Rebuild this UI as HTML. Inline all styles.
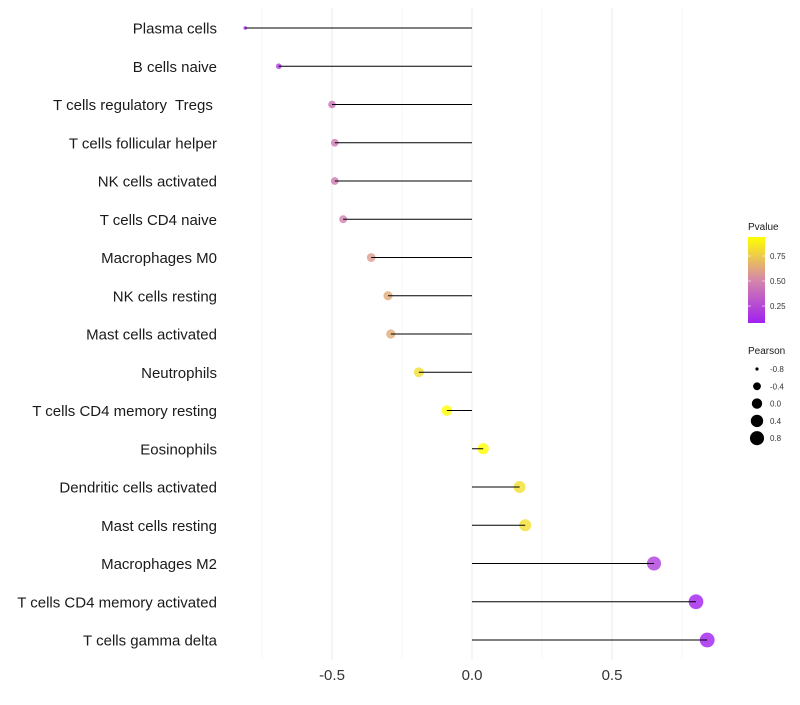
<!DOCTYPE html>
<html><head><meta charset="utf-8"><style>
body{margin:0;background:#fff;font-family:"Liberation Sans",sans-serif}
text{white-space:pre}
</style></head><body>
<svg id="c" width="800" height="700" xmlns="http://www.w3.org/2000/svg"></svg>
<script>
const categories=["Plasma cells","B cells naive","T cells regulatory  Tregs ","T cells follicular helper","NK cells activated","T cells CD4 naive","Macrophages M0","NK cells resting","Mast cells activated","Neutrophils","T cells CD4 memory resting","Eosinophils","Dendritic cells activated","Mast cells resting","Macrophages M2","T cells CD4 memory activated","T cells gamma delta"];
const pearson=[-0.81,-0.69,-0.50,-0.49,-0.49,-0.46,-0.36,-0.30,-0.29,-0.19,-0.09,0.04,0.17,0.19,0.65,0.80,0.84];
const pvalue=[0.10,0.18,0.42,0.45,0.45,0.48,0.58,0.64,0.64,0.82,0.95,1.0,0.82,0.82,0.2,0.08,0.08];
const xTicks=[-0.5,0,0.5];
const xMinor=[-0.75,-0.25,0.25,0.75];
const colorTicks=[0.25,0.5,0.75];
const sizeTicks=[-0.8,-0.4,0.0,0.4,0.8];
const svg=document.getElementById('c');const NS="http://www.w3.org/2000/svg";
function mk(t,a,p){const e=document.createElementNS(NS,t);for(const k in a)e.setAttribute(k,a[k]);(p||svg).appendChild(e);return e;}
const X=v=>472+v*280;
const Y=i=>28+i*38.25;
const R=v=>0.8+Math.sqrt(Math.max(0.5,22+26*v));
const stops=[[0,[160,32,240]],[0.5,[213,135,170]],[1,[255,255,0]]];
function col(p){const t=Math.max(0,Math.min(1,(p-0.08)/(0.94-0.08)));let a=stops[0],b=stops[1];if(t>0.5){a=stops[1];b=stops[2];}const f=(t-a[0])/(b[0]-a[0]);return 'rgb('+a[1].map((c,k)=>Math.round(c+(b[1][k]-c)*f)).join(',')+')';}
xMinor.forEach(v=>{const l=mk('line',{x1:X(v),x2:X(v),y1:8,y2:660,stroke:'#f2f2f2','stroke-width':0.6});});
xTicks.forEach(v=>{const l=mk('line',{x1:X(v),x2:X(v),y1:8,y2:660,stroke:'#ebebeb','stroke-width':1});
const t=mk('text',{x:X(v),y:680,'text-anchor':'middle','font-size':15,fill:'#333'});t.textContent=v===0?'0.0':v.toFixed(1);});
categories.forEach((c,i)=>{const y=Y(i);
const t=mk('text',{x:217,y:y+5.5,'text-anchor':'end','font-size':15,fill:'#1a1a1a'});t.textContent=c;
const d=mk('circle',{cx:X(pearson[i]),cy:y,r:R(pearson[i]),fill:col(pvalue[i]),'fill-opacity':0.8});
const l=mk('line',{x1:X(0),x2:X(pearson[i]),y1:y,y2:y,stroke:'#000','stroke-width':1});});
const lt=mk('text',{x:748,y:230,'font-size':10,fill:'#1a1a1a'});lt.textContent='Pvalue';
const defs=mk('defs',{});const g=mk('linearGradient',{id:'gr',x1:0,y1:1,x2:0,y2:0},defs);
for(let k=0;k<=10;k++){mk('stop',{offset:k/10,'stop-color':col(0.08+k/10*0.86)},g);}
const cb=mk('rect',{x:748,y:237,width:17,height:86,fill:'url(#gr)'});
colorTicks.forEach(v=>{const y=323-(v-0.08)*100;mk('line',{x1:748,x2:751,y1:y,y2:y,stroke:'#fff','stroke-width':0.6});mk('line',{x1:762,x2:765,y1:y,y2:y,stroke:'#fff','stroke-width':0.6});
const t=mk('text',{x:770,y:y+3,'font-size':8,fill:'#333'});t.textContent=v.toFixed(2);});
const st=mk('text',{x:748,y:354,'font-size':10,fill:'#1a1a1a'});st.textContent='Pearson';
sizeTicks.forEach((v,k)=>{const y=369+k*17.3;const d=mk('circle',{cx:757,cy:y,r:R(v)-0.3,fill:'#000'});
const t=mk('text',{x:770,y:y+3,'font-size':8,fill:'#333'});t.textContent=v.toFixed(1);});
</script>
</body></html>
